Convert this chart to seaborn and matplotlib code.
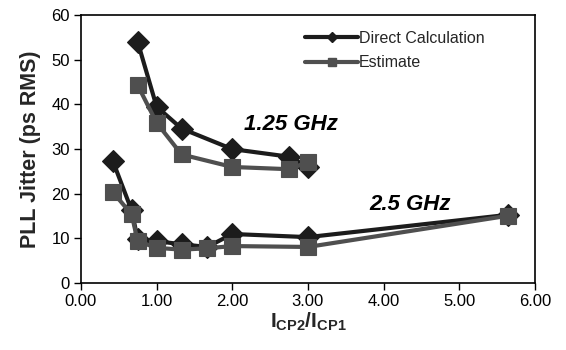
import matplotlib
matplotlib.use("Agg")
import matplotlib.pyplot as plt
import seaborn as sns
import pandas as pd
from matplotlib.lines import Line2D

# ---- data ----
x_125 = [0.75, 1.00, 1.33, 2.00, 2.75, 3.00]
direct_125 = [54.0, 39.5, 34.6, 30.0, 28.3, 26.0]
estimate_125 = [44.3, 35.9, 28.8, 26.0, 25.5, 27.1]

x_25 = [0.42, 0.67, 0.75, 1.00, 1.33, 1.67, 2.00, 3.00, 5.65]
direct_25 = [27.4, 16.3, 9.8, 9.4, 8.7, 8.1, 11.0, 10.3, 15.3]
estimate_25 = [20.4, 15.4, 9.4, 7.9, 7.5, 7.8, 8.3, 8.1, 15.1]

x_ticks = [0, 1, 2, 3, 4, 5, 6]
x_tick_labels = ["0.00", "1.00", "2.00", "3.00", "4.00", "5.00", "6.00"]
y_ticks = [0, 10, 20, 30, 40, 50, 60]

series_names = ["Direct Calculation", "Estimate"]
annotations = [("1.25 GHz", 2.78, 35.6), ("2.5 GHz", 4.35, 17.7)]

# ---- style ----
sns.set_theme(style="white")
plt.rcParams["font.family"] = ["Liberation Sans", "DejaVu Sans"]
plt.rcParams["mathtext.fontset"] = "custom"
plt.rcParams["mathtext.rm"] = "Liberation Sans"
plt.rcParams["mathtext.bf"] = "Liberation Sans:bold"

c_direct = "#1c1c1c"
c_est = "#4f4f4f"

fig = plt.figure(figsize=(5.66, 3.5), dpi=100)
ax = fig.add_axes([0.143, 0.191, 0.802, 0.766])

def draw(x, y, color, marker, ms):
    df = pd.DataFrame({"x": x, "y": y})
    sns.lineplot(data=df, x="x", y="y", ax=ax, sort=False, estimator=None,
                 color=color, linewidth=3.0, marker=marker, markersize=ms,
                 markeredgecolor=color, markerfacecolor=color, markeredgewidth=0.8)

draw(x_125, direct_125, c_direct, "D", 11.5)
draw(x_125, estimate_125, c_est, "s", 12)
draw(x_25, direct_25, c_direct, "D", 11.5)
draw(x_25, estimate_25, c_est, "s", 12)

ax.set_xlim(0, 6)
ax.set_ylim(0, 60)
ax.set_xticks(x_ticks)
ax.set_xticklabels(x_tick_labels)
ax.set_yticks(y_ticks)
ax.tick_params(axis="both", direction="out", length=5, width=1, color="black",
               labelsize=12, labelcolor="black", bottom=True, left=True, pad=3)
for s in ax.spines.values():
    s.set_color("black")
    s.set_linewidth(1.2)
    s.set_visible(True)

ax.set_ylabel("PLL Jitter (ps RMS)", fontsize=15.5, fontweight="bold", labelpad=7)
ax.set_xlabel(r"$\mathbf{I_{CP2}/I_{CP1}}$", fontsize=15, labelpad=1)

for txt, tx, ty in annotations:
    ax.text(tx, ty, txt, fontsize=16, fontweight="bold", fontstyle="italic",
            ha="center", va="center", color="black")

handles = [
    Line2D([], [], color=c_direct, lw=3, marker="D", markersize=5),
    Line2D([], [], color=c_est, lw=3, marker="s", markersize=6),
]
ax.legend(handles, series_names, loc="upper left", bbox_to_anchor=(0.48, 0.965),
          frameon=False, fontsize=11.5, handlelength=3.3, handletextpad=0.05,
          labelspacing=0.6, borderaxespad=0)

fig.savefig("out.png", dpi=100)
